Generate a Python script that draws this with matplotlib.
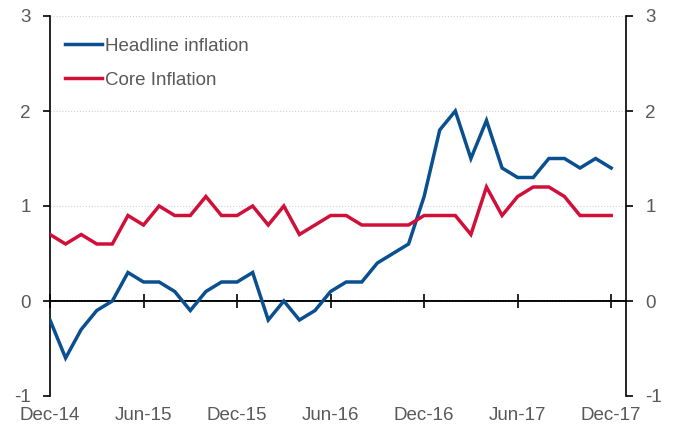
import numpy as np
import matplotlib.pyplot as plt

# monthly data, Dec-14 .. Dec-17
headline = [-0.2, -0.6, -0.3, -0.1, 0.0, 0.3, 0.2, 0.2, 0.1, -0.1, 0.1, 0.2,
            0.2, 0.3, -0.2, 0.0, -0.2, -0.1, 0.1, 0.2, 0.2, 0.4, 0.5, 0.6,
            1.1, 1.8, 2.0, 1.5, 1.9, 1.4, 1.3, 1.3, 1.5, 1.5, 1.4, 1.5, 1.4]
core = [0.7, 0.6, 0.7, 0.6, 0.6, 0.9, 0.8, 1.0, 0.9, 0.9, 1.1, 0.9,
        0.9, 1.0, 0.8, 1.0, 0.7, 0.8, 0.9, 0.9, 0.8, 0.8, 0.8, 0.8,
        0.9, 0.9, 0.9, 0.7, 1.2, 0.9, 1.1, 1.2, 1.2, 1.1, 0.9, 0.9, 0.9]
tick_labels = ['Dec-14', 'Jun-15', 'Dec-15', 'Jun-16', 'Dec-16', 'Jun-17', 'Dec-17']
y_ticks = [-1, 0, 1, 2, 3]

plt.rcParams['font.family'] = ['Liberation Sans', 'DejaVu Sans']
plt.rcParams['axes.unicode_minus'] = False
txt_col = '#595959'
fs = 13.5

months = np.arange(len(headline))
tick_pos = np.arange(0, len(headline), 6)

fig = plt.figure(figsize=(6.76, 4.3), dpi=100)
ax = fig.add_axes([50/676, 1-396/430, 576/676, 380/430])

ax.plot(months, headline, color='#0A4F8F', lw=2.5, label='Headline inflation',
        solid_joinstyle='miter', zorder=3)
ax.plot(months, core, color='#D1103A', lw=2.5, label='Core Inflation',
        solid_joinstyle='miter', zorder=3)

ax.set_xlim(0, 36.95)
ax.set_ylim(-1, 3)
ax.set_yticks(y_ticks)
ax.grid(axis='y', color='#d0d0d0', linestyle=':', lw=0.8)
ax.axhline(0, color='black', lw=1.2, zorder=2.5)

for s in ['top', 'bottom']:
    ax.spines[s].set_visible(False)
for s in ['left', 'right']:
    ax.spines[s].set_color('black')
    ax.spines[s].set_linewidth(1.2)

ax.tick_params(axis='y', left=True, right=True, labelleft=True, labelright=True,
               direction='out', length=5, width=1.2, colors='black',
               labelcolor=txt_col, labelsize=fs, pad=9)

# x labels along the bottom, tick marks on the zero line
ax.set_xticks(tick_pos)
ax.set_xticklabels(tick_labels)
ax.tick_params(axis='x', length=0, labelsize=fs, labelcolor=txt_col, pad=8)

sec = ax.secondary_xaxis(0.25)
sec.set_xticks(tick_pos)
sec.set_xticklabels([])
sec.tick_params(axis='x', direction='inout', length=10, width=1.2, color='black')
sec.spines['bottom'].set_linewidth(1.2)

leg = ax.legend(loc='upper left', bbox_to_anchor=(-0.003, 0.988), frameon=False,
                fontsize=fs, handlelength=1.97, handletextpad=0.16,
                labelspacing=0.92)
for t in leg.get_texts():
    t.set_color(txt_col)

fig.savefig('out.png', dpi=100)
